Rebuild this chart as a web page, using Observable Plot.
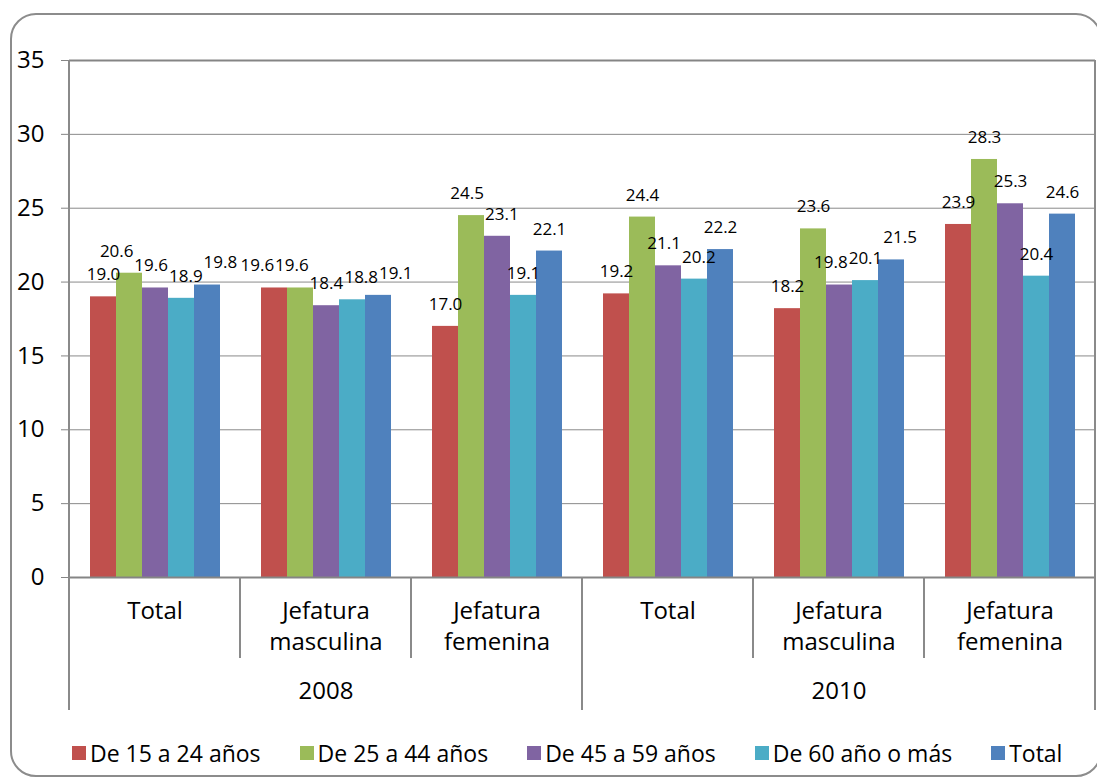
<!DOCTYPE html>
<html><head><meta charset="utf-8">
<script src="https://cdn.jsdelivr.net/npm/d3@7"></script>
<script src="https://cdn.jsdelivr.net/npm/@observablehq/plot@0.6"></script>
<style>
html,body{margin:0;padding:0;background:#fff;overflow:hidden;width:1097px;height:779px;}
#frame{position:absolute;left:10px;top:13px;width:1092px;height:764px;border:2px solid #8c8c8c;border-radius:26px;box-sizing:border-box;}
#chart{position:absolute;left:0;top:0;}
#legend{position:absolute;left:72px;top:739px;display:flex;gap:39px;font-family:"Open Sans",sans-serif;font-size:23px;line-height:28px;color:#000;white-space:nowrap;}
#legend .item{display:flex;align-items:center;gap:4px;}
#legend .sw{width:14px;height:14px;display:inline-block;}
</style></head>
<body>
<div id="frame"></div>
<div id="chart"></div>
<div id="legend"></div>
<script>
// ---- data ----
const years = ["2008", "2010"];
const categories = ["Total", "Jefatura\nmasculina", "Jefatura\nfemenina"];
const series = ["De 15 a 24 años", "De 25 a 44 años", "De 45 a 59 años", "De 60 año o más", "Total"];
const colors = ["#C0504D", "#9BBB59", "#8064A2", "#4BACC6", "#4F81BD"];
// values per series, in group order: 2008 Total, 2008 JM, 2008 JF, 2010 Total, 2010 JM, 2010 JF
const v15_24 = [19.0, 19.6, 17.0, 19.2, 18.2, 23.9];
const v25_44 = [20.6, 19.6, 24.5, 24.4, 23.6, 28.3];
const v45_59 = [19.6, 18.4, 23.1, 21.1, 19.8, 25.3];
const v60 = [18.9, 18.8, 19.1, 20.2, 20.1, 20.4];
const vTotal = [19.8, 19.1, 22.1, 22.2, 21.5, 24.6];
const yTicks = [0, 5, 10, 15, 20, 25, 30, 35];

// ---- build tables ----
const seriesValues = [v15_24, v25_44, v45_59, v60, vTotal];
const groups = [];
years.forEach(yr => categories.forEach(c => groups.push({key: yr + "|" + c, year: yr, cat: c})));
const keys = groups.map(g => g.key);
const rows = [];
groups.forEach((g, gi) => series.forEach((s, si) => rows.push({key: g.key, series: s, value: seriesValues[si][gi]})));
const yearRows = years.map(yr => ({key: yr + "|" + categories[1], year: yr}));
const labelSize = 17;

const plot = Plot.plot({
  width: 1097, height: 720,
  marginLeft: 68, marginRight: 2, marginTop: 60, marginBottom: 143,
  style: {fontFamily: "'Open Sans', sans-serif", fontSize: "24px", color: "#000", background: "transparent", overflow: "visible"},
  fx: {domain: keys, padding: 0, axis: null},
  x: {domain: series, paddingInner: 0, paddingOuter: 0.76, axis: null},
  y: {domain: [0, 35], axis: null},
  color: {domain: series, range: colors},
  marks: [
    Plot.ruleY(yTicks.filter(t => t > 0 && t < 35), {stroke: "#8a8a8a", strokeWidth: 1}),
    Plot.barY(rows, {fx: "key", x: "series", y: "value", fill: "series", inset: 0}),
    Plot.ruleY([0, 35], {stroke: "#858585", strokeWidth: 2}),
    Plot.axisY({ticks: yTicks, label: null, tickSize: 8, tickPadding: 17, fontSize: 24, stroke: "#858585", fill: "#000", tickFormat: d => String(d)}),
    Plot.text(rows, {fx: "key", x: "series", y: "value", text: d => d.value.toFixed(1), dy: -22, fontSize: labelSize, fill: "#000", className: "vlabel"}),
    Plot.text(groups, {fx: "key", text: "cat", frameAnchor: "bottom", dy: 19, lineAnchor: "top", lineHeight: 1.3, fontSize: 24, fill: "#000"}),
    Plot.text(yearRows, {fx: "key", text: "year", frameAnchor: "bottom", dy: 104, lineAnchor: "top", fontSize: 24, fill: "#000"})
  ]
});
document.getElementById("chart").appendChild(plot);

// separators under the category axis, placed with the plot's own scales
let fxs = null;
try { fxs = plot.scale("fx"); } catch (e) { fxs = null; }
const ys = plot.scale("y");
const fxApply = fxs && fxs.apply ? fxs.apply : d3.scaleBand(keys, [68, 1095]).padding(0);
const bw = fxs && fxs.bandwidth ? fxs.bandwidth : (1095 - 68) / keys.length;
const y0 = ys.apply(0), y35 = ys.apply(35);
const g = d3.select(plot).append("g").attr("stroke", "#8a8a8a").attr("stroke-width", 2);
keys.forEach((k, i) => {
  const x = fxApply(k);
  const yearEdge = i % categories.length === 0;
  g.append("line").attr("x1", x).attr("x2", x)
    .attr("y1", i === 0 ? y35 : y0).attr("y2", yearEdge ? y0 + 133 : y0 + 81);
});
const xr = fxApply(keys[keys.length - 1]) + bw;
g.append("line").attr("x1", xr).attr("x2", xr).attr("y1", y35).attr("y2", y0 + 133);

// spread overlapping value labels sideways (like the spreadsheet does)
const allLabels = Array.from(plot.querySelectorAll("g.vlabel text"));
for (let s = 0; s < allLabels.length; s += series.length) {
  const grp = allLabels.slice(s, s + series.length);
  const base = grp.map(el => el.getBoundingClientRect());
  const shift = grp.map(() => 0);
  for (let iter = 0; iter < 80; iter++) {
    let moved = false;
    for (let i = 0; i < grp.length; i++) for (let j = i + 1; j < grp.length; j++) {
      const a = base[i], b = base[j];
      const vo = Math.min(a.bottom, b.bottom) - Math.max(a.top, b.top);
      if (vo <= 2) continue;
      const o = (a.right + shift[i] + 1) - (b.left + shift[j]);
      if (o > 0.2) { shift[i] -= o / 2; shift[j] += o / 2; moved = true; }
    }
    if (!moved) break;
  }
  grp.forEach((el, j) => {
    if (shift[j]) el.setAttribute("transform", (el.getAttribute("transform") || "") + ` translate(${shift[j].toFixed(2)},0)`);
  });
}

// legend
const leg = d3.select("#legend");
series.forEach((s, i) => {
  const it = leg.append("div").attr("class", "item");
  it.append("span").attr("class", "sw").style("background", colors[i]);
  it.append("span").text(s);
});
</script>
</body></html>
